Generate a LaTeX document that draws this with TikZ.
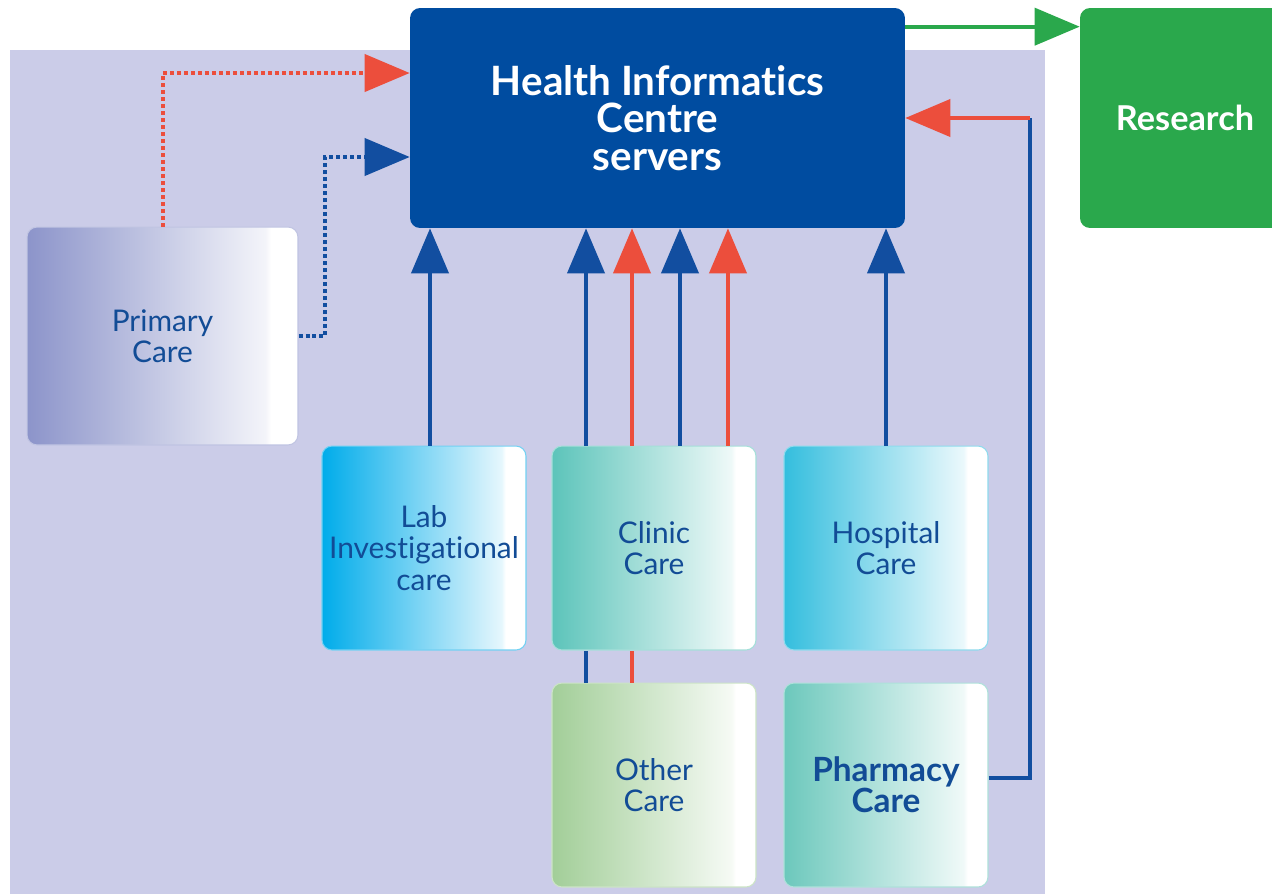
\documentclass[tikz,border=0pt]{standalone}
\usepackage{fontspec}
\setmainfont[Ligatures=NoCommon]{Lato}
\usepackage{tikz}
\usetikzlibrary{arrows.meta}
\definecolor{hicblue}{RGB}{0,76,160}
\definecolor{linblue}{RGB}{18,78,160}
\definecolor{linred}{RGB}{236,78,60}
\definecolor{resgreen}{RGB}{42,168,76}
\definecolor{panel}{RGB}{203,204,232}
\definecolor{txtblue}{RGB}{18,76,150}
\definecolor{primcol}{RGB}{140,148,202}
\definecolor{labcol}{RGB}{0,172,234}
\definecolor{cliniccol}{RGB}{92,196,186}
\definecolor{hospcol}{RGB}{52,190,222}
\definecolor{othercol}{RGB}{162,206,152}
\definecolor{pharmcol}{RGB}{108,200,188}
\colorlet{boxcol}{white}
\pgfdeclarehorizontalshading[boxcol]{boxfade}{100bp}{color(0bp)=(boxcol); color(25bp)=(boxcol); color(69bp)=(boxcol!10!white); color(70bp)=(white); color(100bp)=(white)}

\begin{document}
\begin{tikzpicture}[x=0.02cm,y=-0.02cm,
    tint/.code={\colorlet{boxcol}{#1}},
    care/.style={draw=boxcol!55!white, line width=0.6pt, rounded corners=0.2cm,
      shade, shading=boxfade, minimum width=4.08cm, minimum height=4.08cm, inner sep=2pt,
      align=center, text=txtblue, font=\fontsize{17}{17.8}\selectfont},
    bigbox/.style={rounded corners=0.2cm, minimum height=4.4cm, align=center,
      text=white, font=\bfseries\fontsize{23}{21.5}\selectfont},
    tip/.style={-{Triangle[length=0.9cm,width=0.74cm]}},
    bline/.style={draw=linblue, line width=0.08cm},
    rline/.style={draw=linred, line width=0.08cm},
    dots/.style={dash pattern=on 0.08cm off 0.06cm}]
  \useasboundingbox (0,0) rectangle (1272,894);
  % lavender panel
  \fill [panel] (10,50) rectangle (1045,894);

  \node (hic) at (657.5,118)[bigbox, fill=hicblue, minimum width=9.9cm]{Health Informatics\\Centre\\servers};
  \node (res) at (1185,118)[bigbox, fill=resgreen, minimum width=4.2cm, font=\bfseries\fontsize{19.5}{21.5}\selectfont]{Research};

  \node (prim) at (162.5,336)[tint=primcol, care, minimum width=5.42cm, minimum height=4.36cm]{Primary\\Care};
  \node (lab) at (424,548)[tint=labcol, care]{Lab\\Investigational\\care};
  \node (clin) at (654,548)[tint=cliniccol, care]{Clinic\\Care};
  \node (hosp) at (886,548)[tint=hospcol, care]{Hospital\\Care};
  \node (oth) at (654,785)[tint=othercol, care]{Other\\Care};
  \node (phar) at (886,785)[tint=pharmcol, care, font=\bfseries\fontsize{19}{17.8}\selectfont]{Pharmacy\\Care};

  % to research
  \draw [bline, draw=resgreen, tip] ([yshift=-0.38cm]hic.north east) -- ([yshift=-0.38cm]res.north west);

  % primary care feeds
  \draw [rline, dots, tip] (prim.north) |- ([yshift=0.9cm]hic.west);
  \draw [bline, dots, tip] (prim.east) -- ++(0.54cm,0) |- ([yshift=-0.78cm]hic.west);

  % up into the centre
  \draw [bline, tip] ([xshift=0.12cm]lab.north) -- ([xshift=0.12cm]lab.north |- hic.south);
  \foreach \dx/\kind in {-1.36/bline, -0.44/rline, 0.52/bline, 1.48/rline}
    \draw [\kind, tip] ([xshift=\dx cm]clin.north) -- ([xshift=\dx cm]clin.north |- hic.south);
  \draw [bline, tip] (hosp.north) -- (hosp.north |- hic.south);

  % other care through clinic
  \draw [bline] ([xshift=-1.36cm]oth.north) -- ([xshift=-1.36cm]clin.south);
  \draw [rline] ([xshift=-0.44cm]oth.north) -- ([xshift=-0.44cm]clin.south);

  % pharmacy loop
  \path (hic.east) ++(2.5cm,0) coordinate (turn);
  \draw [bline] ([yshift=0.14cm]phar.east) -| (turn);
  \draw [rline, tip] (turn) -- (hic.east);
\end{tikzpicture}
\end{document}
